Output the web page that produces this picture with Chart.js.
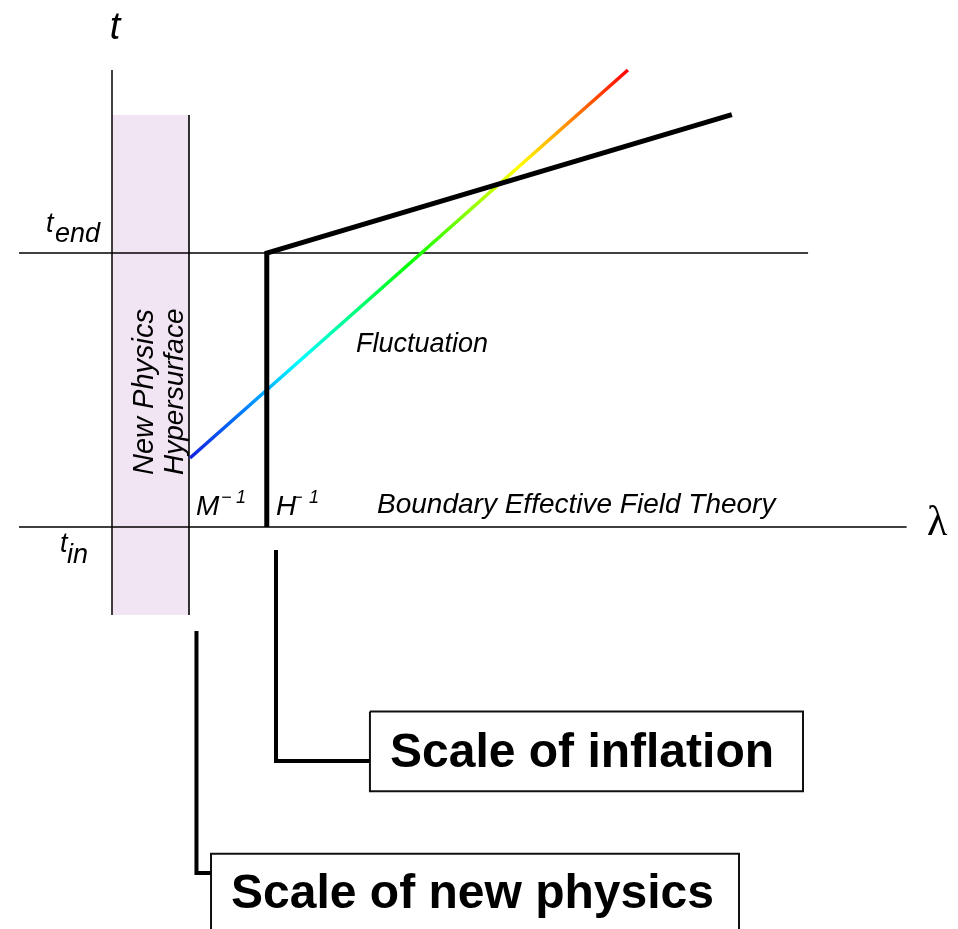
<!DOCTYPE html>
<html><head><meta charset="utf-8">
<script src="https://cdn.jsdelivr.net/npm/chart.js@4.4.1/dist/chart.umd.min.js"></script>
<style>html,body{margin:0;padding:0;background:#fff;}#wrap{width:958px;height:929px;}</style>
</head><body><div id="wrap"><canvas id="c" width="958" height="929"></canvas></div>
<script>
// Coordinates: lambda in units of M^-1 measured from the t axis; t with t_in = 0, t_end = 1
const lambdaAxis = [[-1.208, 0], [10.32, 0]];
const tAxis = [[0, -0.321], [0, 1.668]];
const tEndLine = [[-1.208, 1], [9.04, 1]];
const hypersurfaceTop = [[0, 1.504], [1, 1.504]];
const hypersurfaceBottom = -0.321;
const newPhysicsEdge = [[1, -0.321], [1, 1.504]];
const horizonLine = [[2.01, 0], [2.01, 1], [8.05, 1.505]];
const fluctuation = [[1.013, 0.252], [6.70, 1.668]];
const inflationConnector = [[2.13, -0.084], [2.13, -0.854], [3.35, -0.854]];
const newPhysicsConnector = [[1.097, -0.380], [1.097, -1.263], [1.286, -1.263]];
const inflationBox = [[3.35, -0.673], [8.974, -0.673], [8.974, -0.964], [3.35, -0.964], [3.35, -0.673]];
const newPhysicsBox = [[1.286, -1.70], [1.286, -1.193], [8.143, -1.193], [8.143, -1.70]];

const xRange = [-1.4545, 10.987];
const yRange = [-1.4672, 1.9234];

const SANS = '"Liberation Sans", Arial, Helvetica, sans-serif';
const SERIF = '"Liberation Serif", "Times New Roman", serif';
// text labels: [text, lambda, t, font, align, rotation]
const labels = [
  ['t', 0.039, 1.781, 'italic 38px ' + SANS, 'center', 0],
  ['t', -0.857, 1.0766, 'italic 27px ' + SANS, 'left', 0],
  ['end', -0.740, 1.040, 'italic 27px ' + SANS, 'left', 0],
  ['t', -0.675, -0.091, 'italic 27px ' + SANS, 'left', 0],
  ['in', -0.584, -0.131, 'italic 27px ' + SANS, 'left', 0],
  ['M', 1.091, 0.0438, 'italic 28px ' + SANS, 'left', 0],
  ['\u2212', 1.416, 0.0876, 'italic 18px ' + SANS, 'left', 0],
  ['1', 1.610, 0.0876, 'italic 18px ' + SANS, 'left', 0],
  ['H', 2.130, 0.0438, 'italic 28px ' + SANS, 'left', 0],
  ['\u2212', 2.338, 0.0876, 'italic 18px ' + SANS, 'left', 0],
  ['1', 2.558, 0.0876, 'italic 18px ' + SANS, 'left', 0],
  ['Boundary Effective Field Theory', 3.442, 0.0511, 'italic 28px ' + SANS, 'left', 0],
  ['\u03bb', 10.584, -0.0292, '42px ' + SERIF, 'left', 0],
  ['Fluctuation', 3.169, 0.6387, 'italic 27px ' + SANS, 'left', 0],
  ['New Physics', 0.532, 0.1898, 'italic 29px ' + SANS, 'left', -Math.PI / 2],
  ['Hypersurface', 0.922, 0.1898, 'italic 28px ' + SANS, 'left', -Math.PI / 2],
  ['Scale of inflation', 6.104, -0.876, 'bold 48px ' + SANS, 'center', 0],
  ['Scale of new physics', 4.682, -1.3905, 'bold 48px ' + SANS, 'center', 0]
];

const pts = a => a.map(([x, y]) => ({x, y}));

function rainbow(c) {
  const ch = c.chart;
  if (!ch.chartArea) return '#00f';
  const sx = ch.scales.x, sy = ch.scales.y;
  const g = ch.ctx.createLinearGradient(
    sx.getPixelForValue(fluctuation[0][0]), sy.getPixelForValue(fluctuation[0][1]),
    sx.getPixelForValue(fluctuation[1][0]), sy.getPixelForValue(fluctuation[1][1]));
  g.addColorStop(0, 'hsl(236,85%,47%)');
  for (let i = 1; i <= 8; i++) {
    g.addColorStop(i / 8, 'hsl(' + (240 - 30 * i) + ',100%,50%)');
  }
  return g;
}

const line = (data, color, width, order, extra) => Object.assign({
  data: pts(data), borderColor: color, borderWidth: width, fill: false,
  pointRadius: 0, order: order, tension: 0, borderCapStyle: 'butt', borderJoinStyle: 'miter'
}, extra || {});

const labelPlugin = {
  id: 'labels',
  afterDatasetsDraw(chart) {
    const {ctx} = chart;
    const sx = chart.scales.x, sy = chart.scales.y;
    ctx.save();
    ctx.fillStyle = '#000';
    ctx.textBaseline = 'alphabetic';
    labels.forEach(([txt, lx, ly, font, align, rot]) => {
      ctx.save();
      ctx.translate(sx.getPixelForValue(lx), sy.getPixelForValue(ly));
      ctx.rotate(rot);
      ctx.font = font;
      ctx.textAlign = align;
      ctx.fillText(txt, 0, 0);
      ctx.restore();
    });
    ctx.restore();
  }
};

new Chart(document.getElementById('c'), {
  type: 'line',
  data: {
    datasets: [
      line(hypersurfaceTop, 'rgba(0,0,0,0)', 1, 20, {fill: {value: hypersurfaceBottom}, backgroundColor: '#f1e4f3'}),
      line(lambdaAxis, '#000', 1.5, 10),
      line(tAxis, '#000', 1.5, 10),
      line(tEndLine, '#000', 1.5, 10),
      line(newPhysicsEdge, '#000', 1.6, 10),
      line(fluctuation, rainbow, 3.5, 5),
      line(horizonLine, '#000', 5, 4),
      line(inflationConnector, '#000', 4, 4),
      line(newPhysicsConnector, '#000', 4, 4),
      line(inflationBox, '#111', 2, 4),
      line(newPhysicsBox, '#111', 2, 4)
    ]
  },
  options: {
    responsive: false,
    animation: false,
    devicePixelRatio: 1,
    events: [],
    layout: {padding: 0},
    plugins: {legend: {display: false}, tooltip: {enabled: false}},
    scales: {
      x: {type: 'linear', min: xRange[0], max: xRange[1], display: false},
      y: {type: 'linear', min: yRange[0], max: yRange[1], display: false}
    }
  },
  plugins: [labelPlugin]
});
</script>
</body></html>
